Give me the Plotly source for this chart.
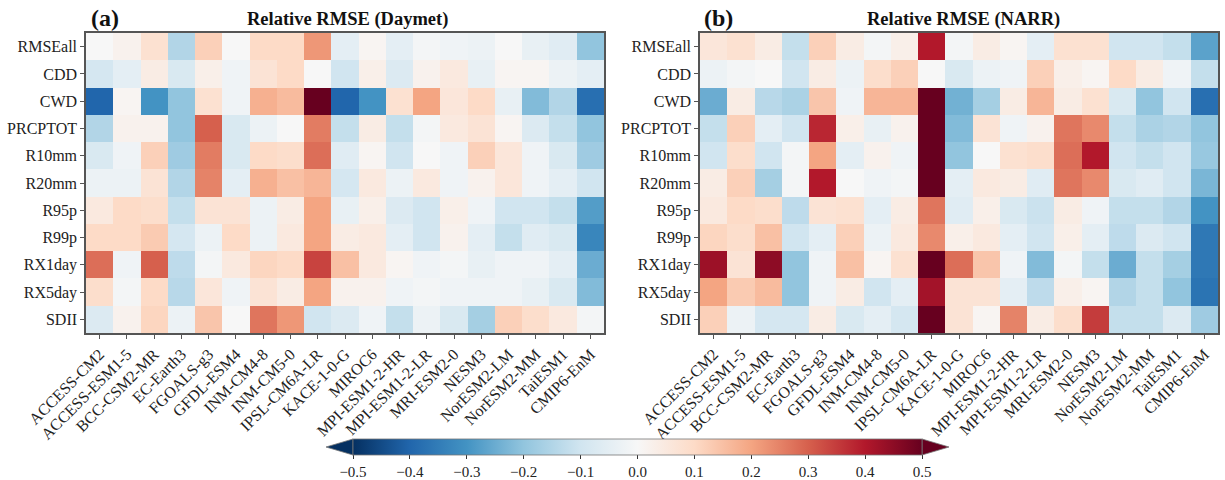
import plotly.graph_objects as go

models = ["ACCESS-CM2", "ACCESS-ESM1-5", "BCC-CSM2-MR", "EC-Earth3", "FGOALS-g3", "GFDL-ESM4",
          "INM-CM4-8", "INM-CM5-0", "IPSL-CM6A-LR", "KACE-1-0-G", "MIROC6", "MPI-ESM1-2-HR",
          "MPI-ESM1-2-LR", "MRI-ESM2-0", "NESM3", "NorESM2-LM", "NorESM2-MM", "TaiESM1", "CMIP6-EnM"]
indices = ["RMSEall", "CDD", "CWD", "PRCPTOT", "R10mm", "R20mm", "R95p", "R99p", "RX1day", "RX5day", "SDII"]

daymet = [
    [0.00, 0.02, 0.08, -0.15, 0.12, 0.00, 0.10, 0.10, 0.22, -0.05, 0.01, -0.05, -0.01, -0.02, -0.03, 0.00, -0.04, -0.06, -0.20],
    [-0.09, -0.05, 0.04, -0.08, 0.03, -0.02, 0.07, 0.10, 0.00, -0.10, 0.03, -0.07, 0.02, 0.05, -0.04, 0.01, 0.01, -0.03, -0.05],
    [-0.40, 0.01, -0.30, -0.20, 0.08, -0.02, 0.18, 0.16, 0.50, -0.40, -0.30, 0.08, 0.20, 0.06, 0.10, -0.04, -0.22, -0.15, -0.38],
    [-0.15, 0.02, 0.02, -0.20, 0.30, -0.08, -0.03, 0.00, 0.26, -0.12, 0.04, -0.12, -0.01, 0.05, 0.07, 0.01, -0.07, -0.12, -0.20],
    [-0.08, -0.02, 0.12, -0.18, 0.26, -0.08, 0.10, 0.09, 0.28, -0.06, 0.01, -0.10, 0.00, -0.02, 0.12, 0.06, -0.02, -0.08, -0.18],
    [-0.03, -0.03, 0.07, -0.15, 0.25, -0.05, 0.18, 0.15, 0.17, -0.09, 0.05, -0.03, 0.05, -0.02, 0.02, 0.06, -0.02, -0.05, -0.10],
    [0.05, 0.10, 0.09, -0.12, 0.07, 0.07, -0.03, 0.04, 0.20, -0.04, 0.03, -0.07, -0.10, 0.03, -0.02, -0.10, -0.10, -0.12, -0.28],
    [0.10, 0.10, 0.13, -0.09, -0.03, 0.10, -0.03, 0.05, 0.20, 0.04, 0.05, -0.05, -0.10, 0.02, -0.05, -0.12, -0.06, -0.08, -0.33],
    [0.28, -0.02, 0.30, -0.13, -0.01, 0.05, 0.11, 0.10, 0.34, 0.15, 0.05, 0.01, -0.02, -0.01, -0.04, -0.02, -0.02, -0.05, -0.25],
    [0.09, -0.01, 0.10, -0.14, 0.06, -0.02, 0.07, 0.04, 0.20, 0.02, 0.02, -0.02, -0.01, -0.02, -0.02, -0.02, -0.04, -0.08, -0.22],
    [-0.07, 0.02, 0.11, -0.03, 0.14, 0.00, 0.27, 0.22, -0.10, -0.07, -0.02, -0.12, -0.03, -0.08, -0.17, 0.12, 0.09, 0.05, -0.01],
]

narr = [
    [0.06, 0.08, 0.04, -0.12, 0.12, 0.04, -0.01, 0.03, 0.40, -0.01, 0.04, 0.01, -0.05, 0.08, 0.08, -0.10, -0.10, -0.12, -0.27],
    [-0.03, -0.01, 0.00, -0.10, 0.04, -0.03, 0.09, 0.12, 0.00, -0.08, -0.03, -0.02, 0.12, 0.03, 0.01, 0.10, 0.04, -0.02, -0.12],
    [-0.25, 0.04, -0.14, -0.16, 0.14, -0.02, 0.17, 0.17, 0.50, -0.24, -0.17, 0.04, 0.17, 0.04, 0.08, -0.08, -0.20, -0.10, -0.38],
    [-0.12, 0.12, -0.05, -0.10, 0.38, 0.03, -0.04, 0.02, 0.50, -0.22, 0.07, -0.02, 0.02, 0.27, 0.24, -0.12, -0.16, -0.15, -0.20],
    [-0.10, 0.09, -0.10, -0.01, 0.20, -0.05, 0.02, -0.02, 0.50, -0.20, 0.00, 0.08, 0.09, 0.28, 0.40, -0.10, -0.12, -0.10, -0.19],
    [0.04, 0.12, -0.17, -0.01, 0.40, 0.00, -0.02, -0.01, 0.50, -0.05, 0.05, 0.04, -0.06, 0.27, 0.24, -0.08, -0.06, -0.10, -0.23],
    [0.05, 0.10, 0.09, -0.13, 0.07, 0.08, -0.05, 0.04, 0.27, -0.06, 0.03, -0.08, -0.11, 0.04, -0.02, -0.12, -0.12, -0.15, -0.30],
    [0.11, 0.09, 0.15, -0.10, -0.05, 0.12, -0.03, 0.05, 0.24, 0.03, 0.05, -0.05, -0.10, 0.03, -0.05, -0.13, -0.07, -0.10, -0.36],
    [0.43, 0.07, 0.45, -0.20, -0.02, 0.15, 0.01, 0.08, 0.50, 0.28, 0.14, -0.02, -0.22, -0.01, -0.12, -0.25, -0.12, -0.17, -0.36],
    [0.20, 0.13, 0.16, -0.20, -0.02, 0.04, -0.10, -0.05, 0.42, 0.07, 0.07, -0.05, -0.13, 0.03, 0.01, -0.15, -0.12, -0.20, -0.37],
    [0.12, -0.03, -0.09, -0.09, 0.04, -0.08, -0.05, -0.09, 0.50, 0.07, 0.01, 0.25, 0.04, 0.09, 0.35, -0.12, -0.12, -0.07, -0.18],
]

cb_ticks = [-0.5, -0.4, -0.3, -0.2, -0.1, 0.0, 0.1, 0.2, 0.3, 0.4, 0.5]
cb_ticktext = ["\u22120.5", "\u22120.4", "\u22120.3", "\u22120.2", "\u22120.1", "0.0", "0.1", "0.2", "0.3", "0.4", "0.5"]

W, H = 1225, 480
FONT = "Liberation Serif"

def px(x):
    return x / W

def py(y):
    return 1 - y / H

fig = go.Figure()

fig.add_trace(go.Heatmap(z=daymet, x=models, y=indices, xaxis="x", yaxis="y",
                         colorscale="RdBu_r", zmin=-0.5, zmax=0.5, showscale=False))
fig.add_trace(go.Heatmap(z=narr, x=models, y=indices, xaxis="x2", yaxis="y2",
                         colorscale="RdBu_r", zmin=-0.5, zmax=0.5, showscale=True,
                         colorbar=dict(orientation="h", thickness=16, len=569, lenmode="pixels",
                                       x=px(637.5), xanchor="center", y=py(439), yanchor="top",
                                       xpad=0, ypad=0,
                                       tickvals=cb_ticks, ticktext=cb_ticktext, ticks="outside",
                                       ticklen=4, tickcolor="#333", outlinewidth=0.8,
                                       outlinecolor="#777",
                                       tickfont=dict(family=FONT, size=15, color="#222"))))

axis_common = dict(showline=True, mirror=True, linecolor="#555", linewidth=1.5,
                   ticks="outside", ticklen=4, tickcolor="#555", showgrid=False, zeroline=False,
                   automargin=False,
                   tickfont=dict(family=FONT, size=16, color="#222"))

fig.update_layout(
    width=W, height=H, margin=dict(l=0, r=0, t=0, b=0, autoexpand=False),
    paper_bgcolor="white", plot_bgcolor="white",
    xaxis=dict(domain=[px(86), px(604)], anchor="y", tickangle=-45, **axis_common),
    yaxis=dict(domain=[py(333), py(33)], anchor="x", autorange="reversed", **axis_common),
    xaxis2=dict(domain=[px(700), px(1218)], anchor="y2", tickangle=-45, **axis_common),
    yaxis2=dict(domain=[py(333), py(33)], anchor="x2", autorange="reversed", **axis_common),
    font=dict(family=FONT, color="#222"),
)

annotations = [
    dict(text="<b>(a)</b>", x=px(89), y=py(18), xanchor="left", yanchor="middle", font=dict(size=24)),
    dict(text="<b>Relative RMSE (Daymet)</b>", x=px(347), y=py(20), xanchor="center", yanchor="middle", font=dict(size=18.5)),
    dict(text="<b>(b)</b>", x=px(702), y=py(18), xanchor="left", yanchor="middle", font=dict(size=24)),
    dict(text="<b>Relative RMSE (NARR)</b>", x=px(963), y=py(20), xanchor="center", yanchor="middle", font=dict(size=18.5)),
]
for a in annotations:
    a.update(xref="paper", yref="paper", showarrow=False)
    a["font"].update(family=FONT, color="#111")
fig.update_layout(annotations=annotations)

# colorbar extension triangles
def tri(x0, xt, color):
    return dict(type="path", xref="paper", yref="paper",
                path=f"M {px(x0)},{py(439)} L {px(xt)},{py(447)} L {px(x0)},{py(455)} Z",
                fillcolor=color, line=dict(color="#777", width=0.8))

fig.update_layout(shapes=[tri(353, 326, "rgb(5,48,97)"), tri(922, 949, "rgb(103,0,31)")])

fig.write_html("out.html")
